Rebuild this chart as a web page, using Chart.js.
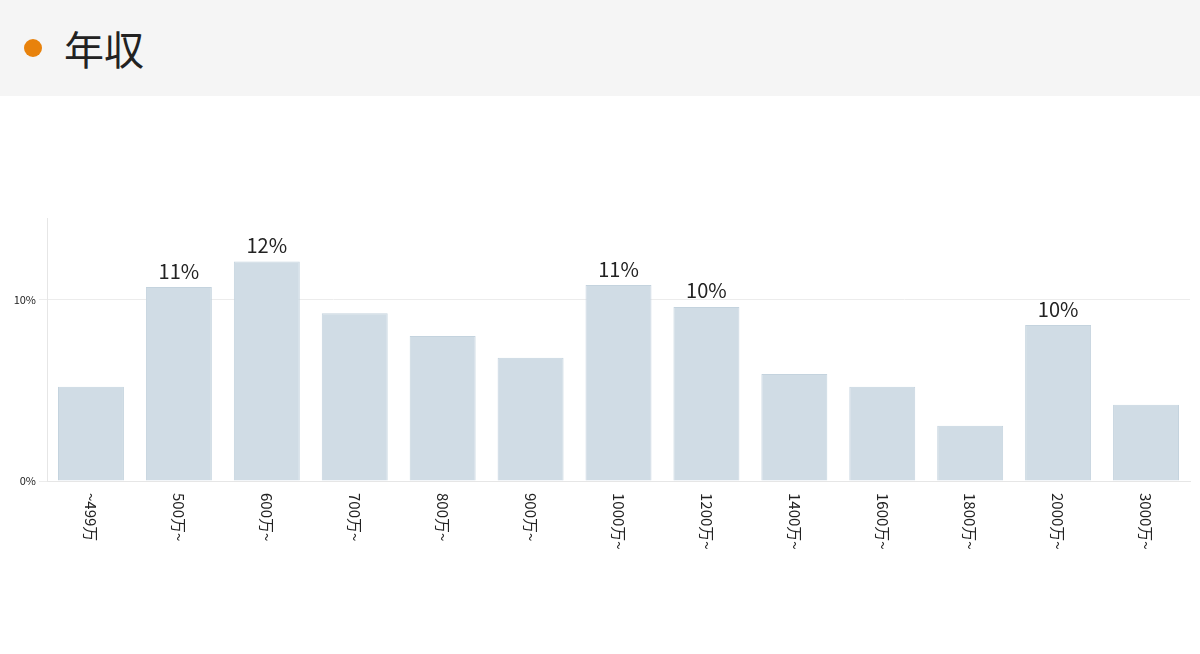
<!DOCTYPE html>
<html><head><meta charset="utf-8">
<script src="https://cdn.jsdelivr.net/npm/chart.js@4"></script>
<style>
body{margin:0;width:1200px;height:654px;background:#fff;font-family:"Noto Sans CJK JP","Noto Sans",sans-serif;overflow:hidden}
#hd{position:absolute;left:0;top:0;width:1200px;height:96px;background:#f5f5f5}
#dot{position:absolute;left:24px;top:39px;width:18px;height:18px;border-radius:50%;background:#e8820c}
#tt{position:absolute;left:64px;top:20px;font-size:40px;color:#222;line-height:56px}
#wrap{position:absolute;left:0;top:96px;width:1200px;height:558px}
</style></head><body>
<div id="hd"><div id="dot"></div><div id="tt">年収</div></div>
<div id="wrap"><canvas id="c" width="1200" height="558"></canvas></div>
<script>
const categories=["~499万","500万~","600万~","700万~","800万~","900万~","1000万~","1200万~","1400万~","1600万~","1800万~","2000万~","3000万~"];
const values=[5.2,10.7,12.1,9.25,8.0,6.8,10.8,9.6,5.9,5.2,3.05,8.6,4.2];
const valueLabels=["","11%","12%","","","","11%","10%","","","","10%",""];
const yTicks=[0,10];
const labelPlugin={id:'lbl',afterDatasetsDraw(ch){
 const ctx=ch.ctx,meta=ch.getDatasetMeta(0),xs=ch.scales.x,ya=ch.scales.y;
 ctx.save();
 ctx.fillStyle='#222';ctx.font='20px "Noto Sans CJK JP"';ctx.textAlign='center';ctx.textBaseline='bottom';
 meta.data.forEach((b,i)=>{if(valueLabels[i])ctx.fillText(valueLabels[i],b.x,b.y-6);});
 ctx.font='15px "Noto Sans CJK JP"';ctx.textAlign='left';ctx.textBaseline='middle';
 categories.forEach((c,i)=>{const x=xs.getPixelForValue(i);ctx.save();ctx.translate(x,ya.bottom+12);ctx.rotate(Math.PI/2);ctx.fillText(c,0,0);ctx.restore();});
 ctx.restore();}};
new Chart(document.getElementById('c'),{type:'bar',
 data:{labels:categories,datasets:[{data:values,backgroundColor:'#d0dce5',borderColor:'#c4d3de',borderWidth:1,categoryPercentage:1,barPercentage:0.75}]},
 options:{responsive:false,animation:false,devicePixelRatio:1,
  layout:{padding:{left:0,right:10,top:122,bottom:165}},
  plugins:{legend:{display:false},tooltip:{enabled:false}},
  scales:{
   x:{grid:{display:false},border:{color:'#e6e6e6'},ticks:{display:false}},
   y:{min:0,max:14.5,afterBuildTicks:a=>{a.ticks=yTicks.map(v=>({value:v}));},
      afterFit:a=>{a.width=47;},
      grid:{color:'#ececec'},border:{color:'#e6e6e6'},
      ticks:{callback:v=>v+'%',font:{size:11,family:'"Noto Sans CJK JP"'},color:'#222'}}}
 },plugins:[labelPlugin]});
</script>
</body></html>
